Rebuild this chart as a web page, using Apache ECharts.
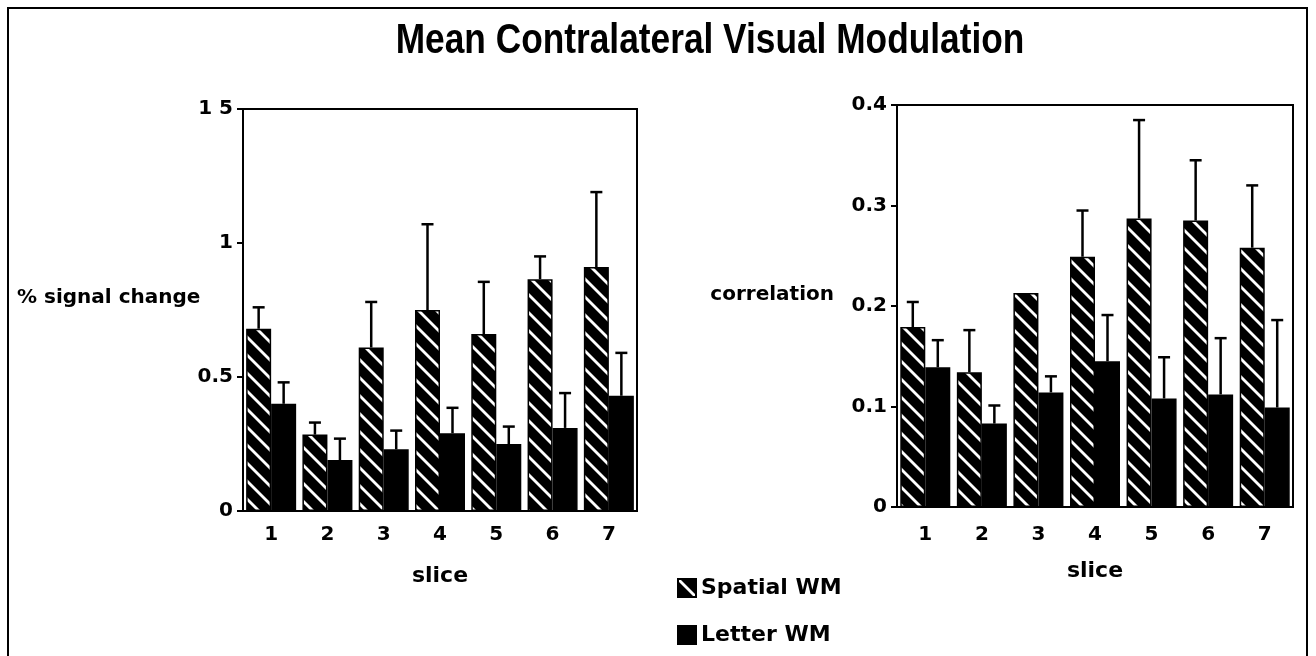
<!DOCTYPE html>
<html>
<head>
<meta charset="utf-8">
<script src="https://cdn.jsdelivr.net/npm/echarts@6/dist/echarts.min.js"></script>
<style>
html,body{margin:0;padding:0;background:#fff;}
#chart{width:1316px;height:656px;}
</style>
</head>
<body>
<div id="chart"></div>
<script>
// ---- data ----
const categories = ['1', '2', '3', '4', '5', '6', '7'];
const seriesNames = ['Spatial WM', 'Letter WM'];

const leftSpatial    = [0.68, 0.285, 0.61, 0.75, 0.66, 0.865, 0.91];
const leftSpatialErr = [0.08, 0.045, 0.17, 0.32, 0.195, 0.085, 0.28];
const leftLetter     = [0.40, 0.19, 0.23, 0.29, 0.25, 0.31, 0.43];
const leftLetterErr  = [0.08, 0.08, 0.07, 0.095, 0.065, 0.13, 0.16];

const rightSpatial    = [0.179, 0.134, 0.213, 0.249, 0.287, 0.285, 0.258];
const rightSpatialErr = [0.025, 0.042, 0, 0.046, 0.098, 0.060, 0.062];
const rightLetter     = [0.139, 0.083, 0.114, 0.145, 0.108, 0.112, 0.099];
const rightLetterErr  = [0.027, 0.018, 0.016, 0.046, 0.041, 0.056, 0.087];

const leftTicks  = ['0', '0.5', '1', '1 5'];
const rightTicks = ['0', '0.1', '0.2', '0.3', '0.4'];

const titleText = 'Mean Contralateral Visual Modulation';
const leftYName = '% signal change';
const rightYName = 'correlation';
const xName = 'slice';

// ---- styles ----
const FONT = 'DejaVu Sans';
const hatchCanvas = document.createElement('canvas');
hatchCanvas.width = 18; hatchCanvas.height = 18;
(function () {
  const ctx = hatchCanvas.getContext('2d');
  ctx.fillStyle = '#000';
  ctx.fillRect(0, 0, 18, 18);
  ctx.strokeStyle = '#fff';
  ctx.lineWidth = 2.8;
  [-18, 0, 18].forEach(function (k) {
    ctx.beginPath();
    ctx.moveTo(k - 2, -2);
    ctx.lineTo(k + 20, 20);
    ctx.stroke();
  });
})();
const hatch = { image: hatchCanvas, repeat: 'repeat' };
const BAR_W = 25;

function errData(means, errs) {
  return means.map(function (m, i) { return [i, m, errs[i]]; });
}
function errRender(offset) {
  return function (params, api) {
    const i = api.value(0), m = api.value(1), e = api.value(2);
    if (!e) return null;
    const p0 = api.coord([i, m]);
    const p1 = api.coord([i, m + e]);
    const x = p0[0] + offset;
    const st = { stroke: '#000', lineWidth: 2.5 };
    return {
      type: 'group',
      children: [
        { type: 'line', shape: { x1: x, y1: p0[1], x2: x, y2: p1[1] }, style: st },
        { type: 'line', shape: { x1: x - 6, y1: p1[1], x2: x + 6, y2: p1[1] }, style: st }
      ]
    };
  };
}

function xAxisCfg(gridIndex, margin, nameGap) {
  return {
    type: 'category', gridIndex: gridIndex, data: categories,
    axisLine: { lineStyle: { color: '#000', width: 2 } },
    axisTick: { alignWithLabel: true, length: 7, lineStyle: { color: '#000', width: 2 } },
    axisLabel: { color: '#000', fontFamily: FONT, fontWeight: 'bold', fontSize: 20, margin: margin },
    name: xName, nameLocation: 'middle', nameGap: nameGap,
    nameTextStyle: { color: '#000', fontFamily: FONT, fontWeight: 'bold', fontSize: 22, verticalAlign: 'top' }
  };
}
function yAxisCfg(gridIndex, max, interval, ticks) {
  return {
    type: 'value', gridIndex: gridIndex, min: 0, max: max, interval: interval,
    splitLine: { show: false },
    axisLine: { show: true, lineStyle: { color: '#000', width: 2 } },
    axisTick: { show: true, length: 6, lineStyle: { color: '#000', width: 2 } },
    axisLabel: {
      color: '#000', fontFamily: FONT, fontWeight: 'bold', fontSize: 20, margin: 10,
      formatter: function (v) { return ticks[Math.round(v / interval)]; }
    }
  };
}
function barSeries(name, idx, data, color) {
  return {
    type: 'bar', name: name, xAxisIndex: idx, yAxisIndex: idx, data: data,
    barWidth: BAR_W, barGap: '0%',
    itemStyle: { color: color, borderColor: '#000', borderWidth: 1.5 },
    emphasis: { disabled: true }, z: 2
  };
}
function errSeries(idx, means, errs, offset) {
  return {
    type: 'custom', name: 'err', xAxisIndex: idx, yAxisIndex: idx,
    data: errData(means, errs), renderItem: errRender(offset),
    encode: { x: 0, y: 1 }, z: 3, silent: true
  };
}

const chart = echarts.init(document.getElementById('chart'), null, { renderer: 'canvas' });
chart.setOption({
  backgroundColor: '#fff',
  animation: false,
  legend: {
    data: seriesNames, orient: 'vertical', left: 672, top: 572,
    itemWidth: 18, itemHeight: 18, itemGap: 25, icon: 'rect',
    textStyle: { fontFamily: FONT, fontWeight: 'bold', fontSize: 22, color: '#000' },
    selectedMode: false
  },
  grid: [
    { left: 243, top: 109, width: 394, height: 402, show: true, borderColor: '#000', borderWidth: 2, backgroundColor: 'transparent' },
    { left: 897, top: 105, width: 396, height: 402, show: true, borderColor: '#000', borderWidth: 2, backgroundColor: 'transparent' }
  ],
  xAxis: [xAxisCfg(0, 14, 54), xAxisCfg(1, 18, 53)],
  yAxis: [yAxisCfg(0, 1.5, 0.5, leftTicks), yAxisCfg(1, 0.4, 0.1, rightTicks)],
  graphic: [
    { type: 'rect', shape: { x: 8, y: 8, width: 1299, height: 700 }, style: { fill: 'none', stroke: '#000', lineWidth: 2 }, silent: true },
    { type: 'text', x: 710, y: 41, scaleX: 0.84, scaleY: 1,
      style: { text: titleText, fontFamily: 'Liberation Sans', fontWeight: 'bold', fontSize: 42, fill: '#000', textAlign: 'center', textVerticalAlign: 'middle' } },
    { type: 'text', left: 17, top: 288, style: { text: leftYName, fontFamily: FONT, fontWeight: 'bold', fontSize: 20, fill: '#000' } },
    { type: 'text', right: 1316 - 834, top: 285, style: { text: rightYName, fontFamily: FONT, fontWeight: 'bold', fontSize: 20, fill: '#000', textAlign: 'right' } }
  ],
  series: [
    barSeries(seriesNames[0], 0, leftSpatial, hatch),
    barSeries(seriesNames[1], 0, leftLetter, '#000'),
    barSeries(seriesNames[0], 1, rightSpatial, hatch),
    barSeries(seriesNames[1], 1, rightLetter, '#000'),
    errSeries(0, leftSpatial, leftSpatialErr, -BAR_W / 2),
    errSeries(0, leftLetter, leftLetterErr, BAR_W / 2),
    errSeries(1, rightSpatial, rightSpatialErr, -BAR_W / 2),
    errSeries(1, rightLetter, rightLetterErr, BAR_W / 2)
  ]
});
</script>
</body>
</html>
